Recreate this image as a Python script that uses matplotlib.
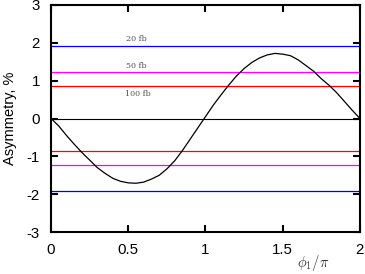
import numpy as np
import matplotlib
matplotlib.use("Agg")
import matplotlib.pyplot as plt

plt.rcParams["mathtext.fontset"] = "cm"
plt.rcParams["font.family"] = ["Liberation Sans", "DejaVu Sans"]
plt.rcParams["axes.unicode_minus"] = False

phi = [0, 0.05, 0.1, 0.15, 0.2, 0.25, 0.3, 0.35, 0.4, 0.45, 0.5, 0.55, 0.6, 0.65,
       0.7, 0.75, 0.8, 0.85, 0.9, 0.95, 1.0, 1.05, 1.1, 1.15, 1.2, 1.25, 1.3, 1.35,
       1.4, 1.45, 1.5, 1.55, 1.6, 1.65, 1.7, 1.75, 1.8, 1.85, 1.9, 1.95, 2.0]
asym = [0, -0.2, -0.45, -0.68, -0.9, -1.1, -1.3, -1.45, -1.58, -1.66, -1.70, -1.71,
        -1.68, -1.60, -1.50, -1.33, -1.12, -0.85, -0.55, -0.25, 0.05, 0.35, 0.62,
        0.88, 1.12, 1.32, 1.48, 1.6, 1.68, 1.72, 1.7, 1.66, 1.55, 1.40, 1.25, 1.05,
        0.88, 0.68, 0.45, 0.22, 0.0]

lumi_labels = ["20 fb", "50 fb", "100 fb"]
lumi_err = [1.92, 1.22, 0.86]
lumi_colors = ["#0000ff", "#ff00ff", "#ff0000"]

fig = plt.figure(figsize=(3.65, 2.74), dpi=100)
ax = fig.add_axes([0.14, 0.153, 0.846, 0.829])

ax.axhline(0, color="black", lw=0.8)
for lab, err, col in zip(lumi_labels, lumi_err, lumi_colors):
    ax.axhline(err, color=col, lw=0.9)
    ax.axhline(-err, color=col, lw=0.9)
ax.plot(phi, asym, color="black", lw=0.9)

lab_kw = dict(fontsize=5.8, family="serif", color="#555555", ha="center")
ax.text(0.555, lumi_err[0] + 0.07, lumi_labels[0], va="bottom", **lab_kw)
ax.text(0.555, lumi_err[1] + 0.07, lumi_labels[1], va="bottom", **lab_kw)
ax.text(0.565, lumi_err[2] - 0.1, lumi_labels[2], va="top", **lab_kw)

ax.set_xlim(0, 2)
ax.set_ylim(-3, 3)
ax.set_xticks([0, 0.5, 1, 1.5, 2])
ax.set_xticklabels(["0", "0.5", "1", "1.5", "2"])
ax.set_yticks([-3, -2, -1, 0, 1, 2, 3])
ax.tick_params(direction="in", length=5, width=1.5, top=True, right=True,
               labelsize=10.8, pad=8)
for s in ax.spines.values():
    s.set_linewidth(1.5)

ax.set_ylabel("Asymmetry, %", fontsize=10.5)
ax.yaxis.set_label_coords(-0.112, 0.5)
fig.text(0.857, 0.04, r"$\phi_1/\pi$", fontsize=10.5, ha="center", va="center",
         color="#333333")

fig.savefig("out.png", dpi=100)
